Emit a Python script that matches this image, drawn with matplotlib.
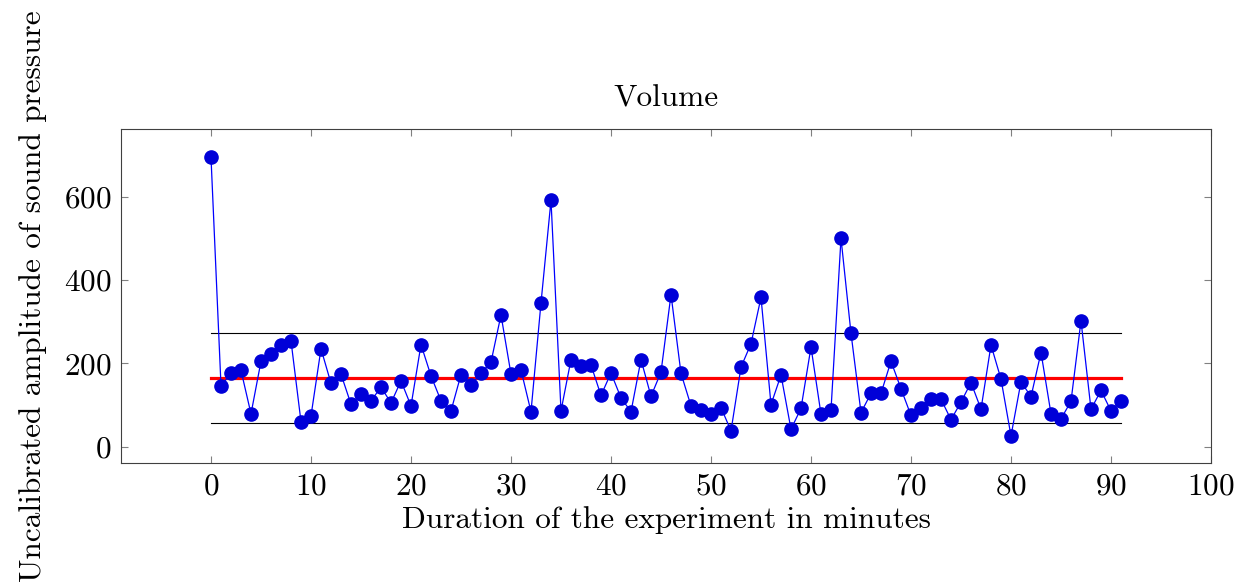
import matplotlib
matplotlib.use("Agg")
import matplotlib.pyplot as plt

# minutes 0..91 and volume
minutes = list(range(92))
volume = [694, 146, 176, 183, 79, 205, 223, 244, 254, 60,
          74, 235, 152, 174, 102, 126, 110, 143, 105, 158,
          98, 245, 170, 110, 86, 173, 149, 176, 203, 316,
          174, 184, 84, 345, 591, 86, 209, 194, 196, 123,
          177, 117, 84, 209, 121, 179, 365, 176, 98, 88,
          78, 94, 38, 191, 247, 358, 101, 172, 42, 92,
          239, 78, 88, 500, 272, 82, 128, 128, 205, 139,
          75, 94, 114, 114, 65, 107, 154, 90, 244, 162,
          26, 156, 120, 226, 79, 67, 109, 302, 90, 135,
          86, 110]

mean_level = 164
upper_level = 272
lower_level = 57

plt.rcParams['font.family'] = ['cmr10', 'DejaVu Serif']
plt.rcParams['axes.formatter.use_mathtext'] = True
plt.rcParams['mathtext.fontset'] = 'cm'

fig = plt.figure(figsize=(12.51, 5.85), dpi=100)
ax = fig.add_axes([121 / 1251, 1 - 463 / 585, 1090 / 1251, 334 / 585])

ax.plot(minutes, volume, color='blue', linewidth=0.9, marker='o',
        markersize=9.5, markerfacecolor='#0000d8', markeredgecolor='#0000d8', zorder=3)
ax.plot([minutes[0], minutes[-1]], [mean_level, mean_level], color='red', linewidth=2.3, zorder=2)
ax.plot([minutes[0], minutes[-1]], [upper_level, upper_level], color='black', linewidth=0.8, zorder=2)
ax.plot([minutes[0], minutes[-1]], [lower_level, lower_level], color='black', linewidth=0.8, zorder=2)

ax.set_xlim(-9, 100)
ax.set_ylim(-39, 762)
ax.set_xticks(range(0, 101, 10))
ax.set_yticks(range(0, 601, 200))
ax.tick_params(direction='in', top=True, right=True, labelsize=22.5, length=5,
               color='#808080', pad=7)
for s in ax.spines.values():
    s.set_color('#404040')

ax.set_title('Volume', fontsize=22.5, pad=16)
ax.set_xlabel('Duration of the experiment in minutes', fontsize=22.5, labelpad=4)
ax.set_ylabel('Uncalibrated amplitude of sound pressure', fontsize=22.5, labelpad=12)

fig.savefig('out.png', dpi=100)
